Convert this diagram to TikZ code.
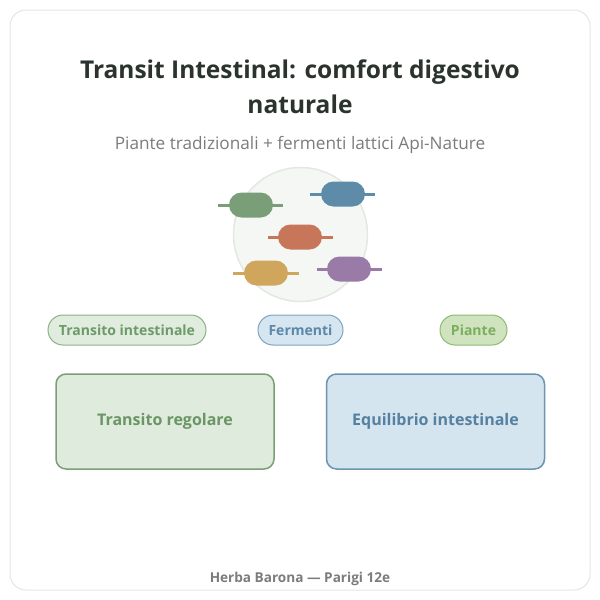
\documentclass[tikz,border=0pt]{standalone}
\usepackage{fontspec}
\setmainfont{Open Sans}
\usetikzlibrary{shapes.misc}
\definecolor{titlec}{HTML}{2B332D}
\definecolor{subc}{HTML}{7A7D7A}
\definecolor{cardb}{HTML}{E4E6E4}
\definecolor{circf}{HTML}{F4F7F3}
\definecolor{circb}{HTML}{E2E9E1}
\definecolor{pg}{HTML}{7A9E78}
\definecolor{pb}{HTML}{5E8CA8}
\definecolor{po}{HTML}{C8765A}
\definecolor{py}{HTML}{D0A55C}
\definecolor{pp}{HTML}{9A7BA8}
\definecolor{tgf}{HTML}{E0ECDD}
\definecolor{tgb}{HTML}{8FB08A}
\definecolor{tgt}{HTML}{6E9A6A}
\definecolor{tbf}{HTML}{D6E6F0}
\definecolor{tbb}{HTML}{7FA3C0}
\definecolor{tbt}{HTML}{5B87A8}
\definecolor{tpf}{HTML}{CFE3BF}
\definecolor{tpb}{HTML}{8DBB72}
\definecolor{tpt}{HTML}{7DAE5F}
\definecolor{bgf}{HTML}{DFEBDC}
\definecolor{bgb}{HTML}{7C9F78}
\definecolor{bgt}{HTML}{6A9565}
\definecolor{bbf}{HTML}{D5E5EF}
\definecolor{bbb}{HTML}{6A94B0}
\definecolor{bbt}{HTML}{55809F}
\tikzset{
  pill/.style={rounded rectangle, minimum width=44pt, minimum height=25pt, inner sep=0pt, fill=#1, draw=none},
  stick/.style={line width=3pt, draw=#1},
  tag/.style={rounded rectangle, minimum height=30pt, inner sep=0pt, line width=1pt, font=\fontsize{14}{16}\selectfont\bfseries},
  bigbox/.style={rectangle, rounded corners=10pt, minimum width=218pt, minimum height=95pt, line width=1.5pt, font=\fontsize{16}{19}\selectfont\bfseries},
}
\begin{document}
\begin{tikzpicture}[x=1pt,y=-1pt]
\useasboundingbox (0,0) rectangle (600,600);
\draw[draw=cardb, fill=white, line width=1pt, rounded corners=16pt] (10,10) rectangle (590,590);
\node[anchor=base, text=titlec, font=\fontsize{24.5}{28}\selectfont\bfseries] (t1) at (300,78) {Transit Intestinal: comfort digestivo};
\node[anchor=base, text=titlec, font=\fontsize{24.5}{28}\selectfont\bfseries] (t2) at (300,113) {naturale};
\node[anchor=base, text=subc, font=\fontsize{17.2}{20}\selectfont] (sub) at (300,149) {Piante tradizionali + fermenti lattici Api-Nature};
\node[circle, minimum size=134pt, fill=circf, draw=circb, line width=1.5pt] (circ) at (300.5,234.5) {};
% pills
\draw[stick=pg] (218,205) -- (283,205);
\node[pill=pg] (pgr) at (251,205) {};
\draw[stick=pb] (310,194) -- (375,194);
\node[pill=pb] (pbl) at (343,194) {};
\draw[stick=po] (268,237) -- (333,237);
\node[pill=po] (por) at (300,237) {};
\draw[stick=py] (233,273) -- (299,273);
\node[pill=py] (pye) at (266,273) {};
\draw[stick=pp] (317,269) -- (382,269);
\node[pill=pp] (ppu) at (349,269) {};
% tags
\node[tag, fill=tgf, draw=tgb, text=tgt, minimum width=158pt] (tag1) at (127,330) {Transito intestinale};
\node[tag, fill=tbf, draw=tbb, text=tbt, minimum width=85pt] (tag2) at (300.5,330) {Fermenti};
\node[tag, fill=tpf, draw=tpb, text=tpt, minimum width=67pt] (tag3) at (473.5,330) {Piante};
% boxes
\node[bigbox, fill=bgf, draw=bgb, text=bgt] (box1) at (165,421.5) {Transito regolare};
\node[bigbox, fill=bbf, draw=bbb, text=bbt] (box2) at (435.5,421.5) {Equilibrio intestinale};
\node[anchor=base, text=subc, font=\fontsize{13.6}{16}\selectfont\bfseries] (foot) at (300,582) {Herba Barona — Parigi 12e};
\end{tikzpicture}
\end{document}
